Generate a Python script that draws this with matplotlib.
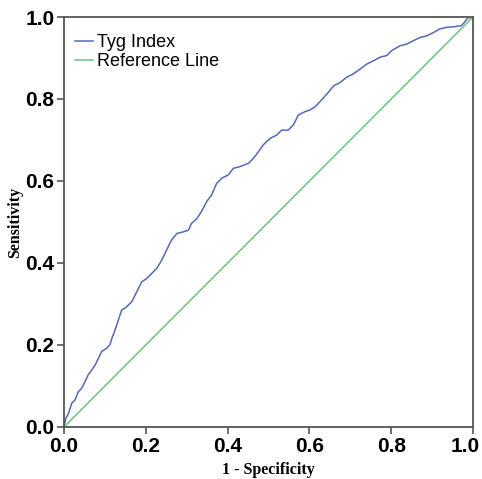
import matplotlib
matplotlib.use("Agg")
from matplotlib import pyplot as plt
from matplotlib.transforms import ScaledTranslation

# ROC curve points
fpr = [0.0, 0.004, 0.011, 0.019, 0.027, 0.035, 0.043, 0.051, 0.059, 0.068,
       0.076, 0.084, 0.092, 0.104, 0.112, 0.117, 0.125, 0.133, 0.141, 0.153,
       0.166, 0.174, 0.182, 0.19, 0.202, 0.214, 0.227, 0.239, 0.251, 0.263,
       0.276, 0.292, 0.304, 0.312, 0.324, 0.337, 0.349, 0.361, 0.373, 0.386,
       0.402, 0.414, 0.43, 0.451, 0.463, 0.475, 0.487, 0.504, 0.52, 0.532,
       0.548, 0.561, 0.573, 0.589, 0.601, 0.614, 0.63, 0.646, 0.659, 0.675,
       0.691, 0.707, 0.724, 0.74, 0.756, 0.773, 0.789, 0.801, 0.822, 0.838,
       0.854, 0.87, 0.887, 0.903, 0.919, 0.936, 0.952, 0.972, 0.98, 0.988, 1.0]
tpr = [0.0, 0.02, 0.033, 0.058, 0.066, 0.086, 0.094, 0.11, 0.127, 0.139,
       0.151, 0.167, 0.184, 0.192, 0.2, 0.216, 0.237, 0.261, 0.285, 0.293,
       0.306, 0.322, 0.338, 0.354, 0.362, 0.374, 0.387, 0.407, 0.432, 0.456,
       0.472, 0.476, 0.48, 0.497, 0.507, 0.527, 0.55, 0.566, 0.594, 0.607,
       0.615, 0.631, 0.635, 0.643, 0.655, 0.671, 0.688, 0.704, 0.712, 0.724,
       0.724, 0.737, 0.761, 0.769, 0.773, 0.781, 0.798, 0.816, 0.832, 0.84,
       0.853, 0.861, 0.873, 0.885, 0.893, 0.902, 0.906, 0.918, 0.93, 0.934,
       0.942, 0.95, 0.954, 0.962, 0.971, 0.975, 0.976, 0.979, 0.988, 0.998, 1.0]
ref = [0.0, 1.0]
ticks = [0.0, 0.2, 0.4, 0.6, 0.8, 1.0]

fig = plt.figure(figsize=(4.82, 4.79), dpi=100)
ax = fig.add_axes([0.1328, 0.1086, 0.8485, 0.8559])

ax.plot(fpr, tpr, color="#5468bd", lw=1.1, label="Tyg Index")
ax.plot(ref, ref, color="#6cc47e", lw=1.1, label="Reference Line")

ax.set_xlim(0, 1)
ax.set_ylim(0, 1)
ax.set_xticks(ticks)
ax.set_yticks(ticks)
ax.set_xticklabels(["%.1f" % t for t in ticks], fontfamily="Liberation Sans",
                   fontweight="bold", fontsize=15)
ax.set_yticklabels(["%.1f" % t for t in ticks], fontfamily="Liberation Sans",
                   fontweight="bold", fontsize=15)
ax.tick_params(direction="out", length=5, width=1.2, color="#555555", pad=2)
# last x label is pulled in so it stays inside the picture
last = ax.get_xticklabels()[-1]
last.set_transform(last.get_transform() + ScaledTranslation(-8 / 100, 0, fig.dpi_scale_trans))
for s in ax.spines.values():
    s.set_color("#555555")
    s.set_linewidth(1.3)

ax.set_xlabel("1 - Specificity", fontfamily="Liberation Serif", fontweight="bold",
              fontsize=11.5, va="center")
ax.set_ylabel("Sensitivity", fontfamily="Liberation Serif", fontweight="bold",
              fontsize=11.5, va="center")
ax.xaxis.set_label_coords(0.5, -0.105)
ax.yaxis.set_label_coords(-0.12, 0.5)

ax.legend(loc="upper left", bbox_to_anchor=(0, 0.985), frameon=False,
          handlelength=1.0, handletextpad=0.22, labelspacing=0.12,
          borderaxespad=0.2, borderpad=0.4,
          prop={"family": "Liberation Sans", "size": 13})

fig.savefig("out.png", dpi=100)
